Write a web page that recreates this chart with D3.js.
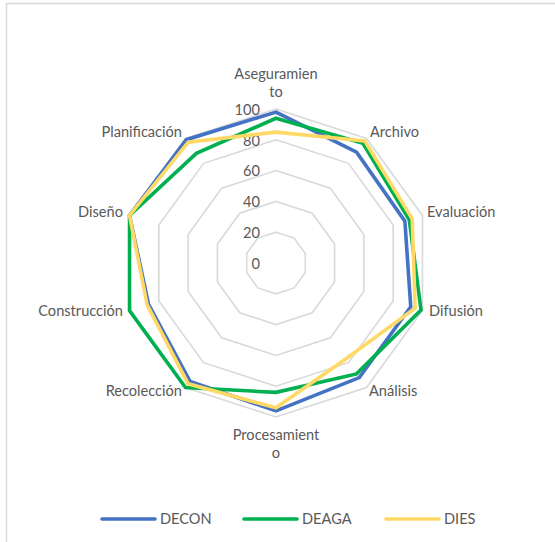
<!DOCTYPE html>
<html><head><meta charset="utf-8">
<script src="https://cdn.jsdelivr.net/npm/d3@7"></script>
<style>body{margin:0;background:#fff}svg{display:block}text{font-family:Lato,"Open Sans",sans-serif;fill:#595959}</style>
</head><body>
<svg id="c" width="555" height="542"></svg>
<script>
const categories = [["Aseguramien","to"],["Archivo"],["Evaluación"],["Difusión"],["Análisis"],["Procesamient","o"],["Recolección"],["Construcción"],["Diseño"],["Planificación"]];
const seriesNames = ["DECON","DEAGA","DIES"];
const decon = [98, 89, 88, 92, 92, 96, 95, 87, 100, 99];
const deaga = [94, 96, 91, 99, 89, 84, 100, 100, 100, 88];
const dies  = [85, 98, 93, 95, 77, 94, 97, 88, 100, 97];
const tickValues = [0, 20, 40, 60, 80, 100];
const colors = ["#4472C4", "#00B050", "#FFD966"];

const svg = d3.select("#c");
const cx = 276, cy = 263, R = 154;
const fs = 14.6;
const r = d3.scaleLinear().domain([0, 100]).range([0, R]);
const n = categories.length;
const ang = d3.scaleLinear().domain([0, n]).range([0, 2 * Math.PI]);
const pt = (i, v) => [cx + r(v) * Math.sin(ang(i)), cy - r(v) * Math.cos(ang(i))];

// frame
svg.append("path").attr("d", "M6.5,542 L6.5,3.5 L555,3.5").attr("fill", "none").attr("stroke", "#D9D9D9").attr("stroke-width", 1.5);

// grid rings
tickValues.filter(t => t > 0).forEach(t => {
  svg.append("polygon")
    .attr("points", d3.range(n).map(i => pt(i, t).join(",")).join(" "))
    .attr("fill", "none").attr("stroke", "#D9D9D9").attr("stroke-width", 1.6);
});

// tick labels
svg.selectAll(".tick").data(tickValues).join("text")
  .attr("x", 260).attr("y", d => cy - r(d) + 2)
  .attr("text-anchor", "end").attr("dominant-baseline", "middle")
  .attr("font-size", fs).text(d => d);

// series
const line = d3.line().curve(d3.curveLinearClosed);
[decon, deaga, dies].forEach((vals, k) => {
  svg.append("path")
    .attr("d", line(vals.map((v, i) => pt(i, v))))
    .attr("fill", "none").attr("stroke", colors[k]).attr("stroke-width", 3.6)
    .attr("stroke-linejoin", "miter");
});

// category labels
const labelPos = [
  {x: 276, y: 75, a: "middle"},
  {x: 370, y: 133, a: "start"},
  {x: 427, y: 213, a: "start"},
  {x: 429, y: 312, a: "start"},
  {x: 369, y: 392, a: "start"},
  {x: 276, y: 436, a: "middle"},
  {x: 182, y: 392, a: "end"},
  {x: 123, y: 312, a: "end"},
  {x: 123, y: 213, a: "end"},
  {x: 182, y: 133, a: "end"}
];
categories.forEach((c, i) => {
  const t = svg.append("text").attr("text-anchor", labelPos[i].a)
    .attr("dominant-baseline", "middle").attr("font-size", fs);
  c.forEach((s, j) => t.append("tspan").attr("x", labelPos[i].x).attr("y", labelPos[i].y + j * 18).text(s));
});

// legend
const lx = [102, 244, 386];
seriesNames.forEach((s, k) => {
  svg.append("line").attr("x1", lx[k]).attr("x2", lx[k] + 53).attr("y1", 519).attr("y2", 519)
    .attr("stroke", colors[k]).attr("stroke-width", 3.6).attr("stroke-linecap", "round");
  svg.append("text").attr("x", lx[k] + 58).attr("y", 520).attr("dominant-baseline", "middle")
    .attr("font-size", fs).text(s);
});
</script>
</body></html>
